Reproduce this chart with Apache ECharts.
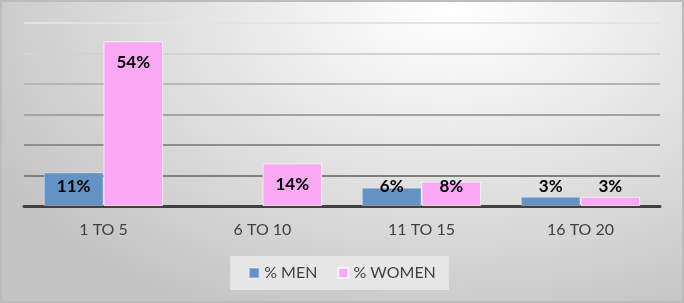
<!DOCTYPE html>
<html>
<head>
<meta charset="utf-8">
<script src="https://cdn.jsdelivr.net/npm/echarts@6/dist/echarts.min.js"></script>
<style>
  html, body { margin: 0; padding: 0; }
  #chart {
    width: 684px; height: 303px;
    background: radial-gradient(ellipse 520px 340px at 66% 2%, #ffffff 0%, #f2f2f2 25%, #c4c4c4 100%);
    box-shadow: inset 0 0 0 2px #bcbcbc;
  }
</style>
</head>
<body>
<div id="chart"></div>
<script>
const categories = ['1 TO 5', '6 TO 10', '11 TO 15', '16 TO 20'];
const menValues = [11, null, 6, 3];
const womenValues = [54, 14, 8, 3];
const seriesNames = ['% MEN', '% WOMEN'];
const yTicks = [0, 10, 20, 30, 40, 50, 60];

function withLabels(values) {
  return values.map(v => ({
    value: v,
    label: v >= 12
      ? { position: 'insideTop', distance: 13 }
      : { position: 'insideBottom', distance: 11 }
  }));
}

const chart = echarts.init(document.getElementById('chart'));
const labelStyle = {
  show: true,
  formatter: p => p.value + '%',
  fontFamily: 'Lato',
  fontWeight: 'bold',
  fontSize: 17,
  color: '#000000'
};
chart.setOption({
  animation: false,
  grid: { left: 24, right: 24, top: 23, bottom: 97 },
  legend: {
    data: seriesNames,
    bottom: 13,
    left: 'center',
    icon: 'rect',
    itemWidth: 10,
    itemHeight: 10,
    itemGap: 20,
    padding: [9, 13, 9, 18],
    backgroundColor: '#e6e6e6',
    textStyle: { fontFamily: 'Lato', fontSize: 16, color: '#404040' }
  },
  xAxis: {
    type: 'category',
    data: categories,
    axisLine: { lineStyle: { color: '#404040', width: 3 } },
    axisTick: { show: false },
    axisLabel: { fontFamily: 'Lato', fontSize: 16, color: '#404040', margin: 16 }
  },
  yAxis: {
    type: 'value',
    min: yTicks[0],
    max: yTicks[yTicks.length - 1],
    interval: 10,
    axisLabel: { show: false },
    axisLine: { show: false },
    axisTick: { show: false },
    splitLine: {
      lineStyle: {
        width: 2,
        color: ['#404040', '#7f7f7f', '#8e8e8e', '#a3a3a3', '#b6b6b6', '#d2d2d2', '#e3e3e3']
      }
    }
  },
  series: [
    {
      name: seriesNames[0],
      type: 'bar',
      data: withLabels(menValues),
      barGap: '0%',
      barCategoryGap: '25%',
      itemStyle: { color: '#6592c5', borderColor: 'rgba(255,255,255,0.3)', borderWidth: 1 },
      label: labelStyle
    },
    {
      name: seriesNames[1],
      type: 'bar',
      data: withLabels(womenValues),
      barGap: '0%',
      barCategoryGap: '25%',
      itemStyle: { color: '#f9a8f3', borderColor: 'rgba(255,255,255,0.7)', borderWidth: 1 },
      label: labelStyle
    }
  ]
});
</script>
</body>
</html>
